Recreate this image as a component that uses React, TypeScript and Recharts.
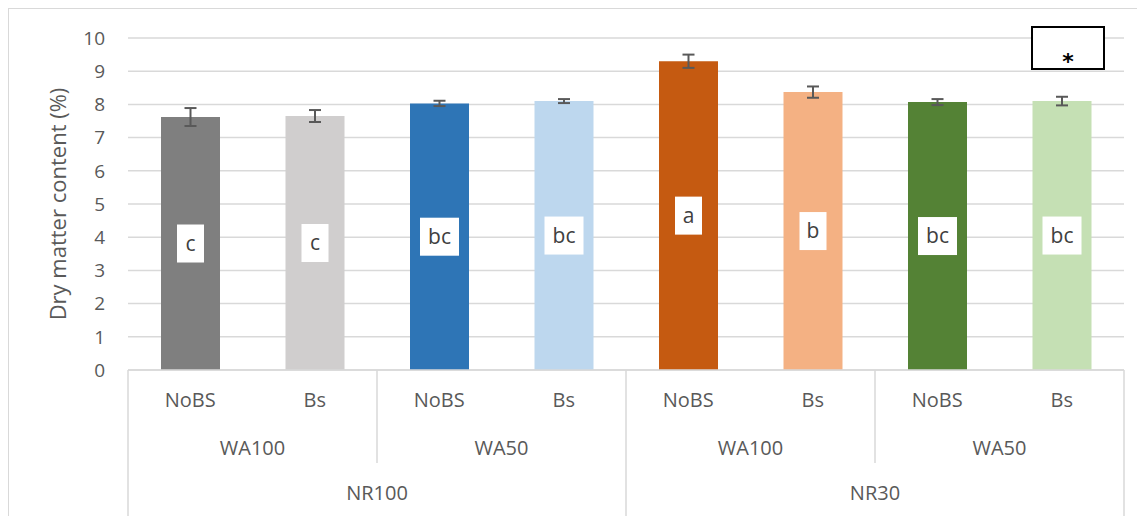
import React from 'react';
import { BarChart, Bar, XAxis, YAxis, CartesianGrid, Cell, ErrorBar, LabelList, Label } from 'recharts';

const treatments = ['NoBS', 'Bs', 'NoBS', 'Bs', 'NoBS', 'Bs', 'NoBS', 'Bs'];
const waterLevels = ['WA100', 'WA50', 'WA100', 'WA50'];
const nitrogenLevels = ['NR100', 'NR30'];
const values = [7.62, 7.65, 8.03, 8.1, 9.3, 8.37, 8.07, 8.1];
const errors = [0.27, 0.18, 0.08, 0.06, 0.2, 0.17, 0.09, 0.13];
const letters = ['c', 'c', 'bc', 'bc', 'a', 'b', 'bc', 'bc'];
const colors = ['#7f7f7f', '#d0cece', '#2e75b6', '#bdd7ee', '#c55a11', '#f4b183', '#548235', '#c5e0b4'];
const yTicks = [0, 1, 2, 3, 4, 5, 6, 7, 8, 9, 10];

const data = treatments.map((t, i) => ({
  id: `${i}`,
  treatment: t,
  value: values[i],
  err: errors[i],
  letter: letters[i],
}));

const FONT = '"Open Sans", sans-serif';
const TEXT = '#595959';
const LINE = '#d9d9d9';

const CategoryTick = (props: any) => {
  const { x, y, payload, index } = props;
  const half = payload.offset || 62;
  const i = index;
  const full = 146;
  const els: any[] = [];
  els.push(
    <text key="t" x={x} y={y + 30} dy="0.35em" textAnchor="middle" fill={TEXT} fontSize={20} fontFamily={FONT}>
      {treatments[i]}
    </text>
  );
  if (i === 0) {
    els.push(<line key="l0" x1={x - half} x2={x - half} y1={y} y2={y + full} stroke={LINE} strokeWidth={1.5} />);
  }
  if (i % 2 === 1) {
    els.push(
      <text key="w" x={x - half} y={y + 78} dy="0.35em" textAnchor="middle" fill={TEXT} fontSize={20} fontFamily={FONT}>
        {waterLevels[(i - 1) / 2]}
      </text>
    );
    const isFull = i % 4 === 3;
    els.push(
      <line key="l1" x1={x + half} x2={x + half} y1={y} y2={y + (isFull ? full : 93)} stroke={LINE} strokeWidth={1.5} />
    );
  }
  if (i % 4 === 3) {
    els.push(
      <text key="n" x={x - 3 * half} y={y + 123} dy="0.35em" textAnchor="middle" fill={TEXT} fontSize={20} fontFamily={FONT}>
        {nitrogenLevels[(i - 3) / 4]}
      </text>
    );
  }
  return <g>{els}</g>;
};

const LetterBox = (props: any) => {
  const { x, y, width, height, value } = props;
  const cx = x + width / 2;
  const cy = y + height / 2;
  const w = String(value).length === 1 ? 27 : 39;
  const h = 38;
  return (
    <g>
      <rect x={cx - w / 2} y={cy - h / 2} width={w} height={h} fill="#ffffff" />
      <text x={cx} y={cy} dy="0.35em" textAnchor="middle" fill="#404040" fontSize={21} fontFamily={FONT}>
        {value}
      </text>
    </g>
  );
};

export default function App() {
  return (
    <div style={{ position: 'relative', width: 1137, height: 508, overflow: 'hidden' }}>
      <div
        style={{
          position: 'absolute',
          left: 0,
          top: 0,
          width: 1150,
          height: 520,
          borderTop: `1.5px solid ${LINE}`,
          borderLeft: `1.5px solid ${LINE}`,
          boxSizing: 'border-box',
        }}
      />
      <div style={{ position: 'absolute', left: 0, top: 0 }}>
        <BarChart
          width={1137}
          height={508}
          data={data}
          margin={{ top: 30, right: 21, bottom: 0, left: 0 }}
          barSize={59}
        >
          <CartesianGrid vertical={false} stroke={LINE} strokeWidth={1.5} />
          <XAxis
            dataKey="id"
            height={146}
            tickLine={false}
            tickSize={0}
            tickMargin={0}
            axisLine={{ stroke: LINE, strokeWidth: 1.5 }}
            tick={<CategoryTick />}
            interval={0}
          />
          <YAxis
            width={120}
            domain={[0, 10]}
            ticks={yTicks}
            interval={0}
            axisLine={false}
            tickLine={false}
            tickSize={0}
            tickMargin={23}
            tick={{ fill: TEXT, fontSize: 19, fontFamily: FONT }}
          >
            <Label
              content={(p: any) => {
                const vb = p.viewBox || { x: 0, y: 30, width: 120, height: 332 };
                const lx = vb.x + 50;
                const ly = vb.y + vb.height / 2;
                return (
                  <text
                    x={lx}
                    y={ly}
                    transform={`rotate(-90, ${lx}, ${ly})`}
                    textAnchor="middle"
                    dy="0.35em"
                    fill={TEXT}
                    fontSize={22}
                    fontFamily={FONT}
                  >
                    Dry matter content (%)
                  </text>
                );
              }}
            />
          </YAxis>
          <Bar dataKey="value" isAnimationActive={false}>
            {data.map((d, i) => (
              <Cell key={d.id} fill={colors[i]} />
            ))}
            <ErrorBar dataKey="err" width={6} stroke="#595959" strokeWidth={2} direction="y" />
            <LabelList dataKey="letter" content={<LetterBox />} />
          </Bar>
        </BarChart>
      </div>
      <div
        style={{
          position: 'absolute',
          left: 1023,
          top: 18,
          width: 74,
          height: 44,
          border: '2px solid #000',
          boxSizing: 'border-box',
          background: '#fff',
          fontFamily: '"DejaVu Sans", sans-serif',
          fontSize: 22,
          fontWeight: 'bold',
          color: '#000',
          textAlign: 'center',
          lineHeight: '20px',
          paddingTop: 24,
        }}
      >
        *
      </div>
    </div>
  );
}
